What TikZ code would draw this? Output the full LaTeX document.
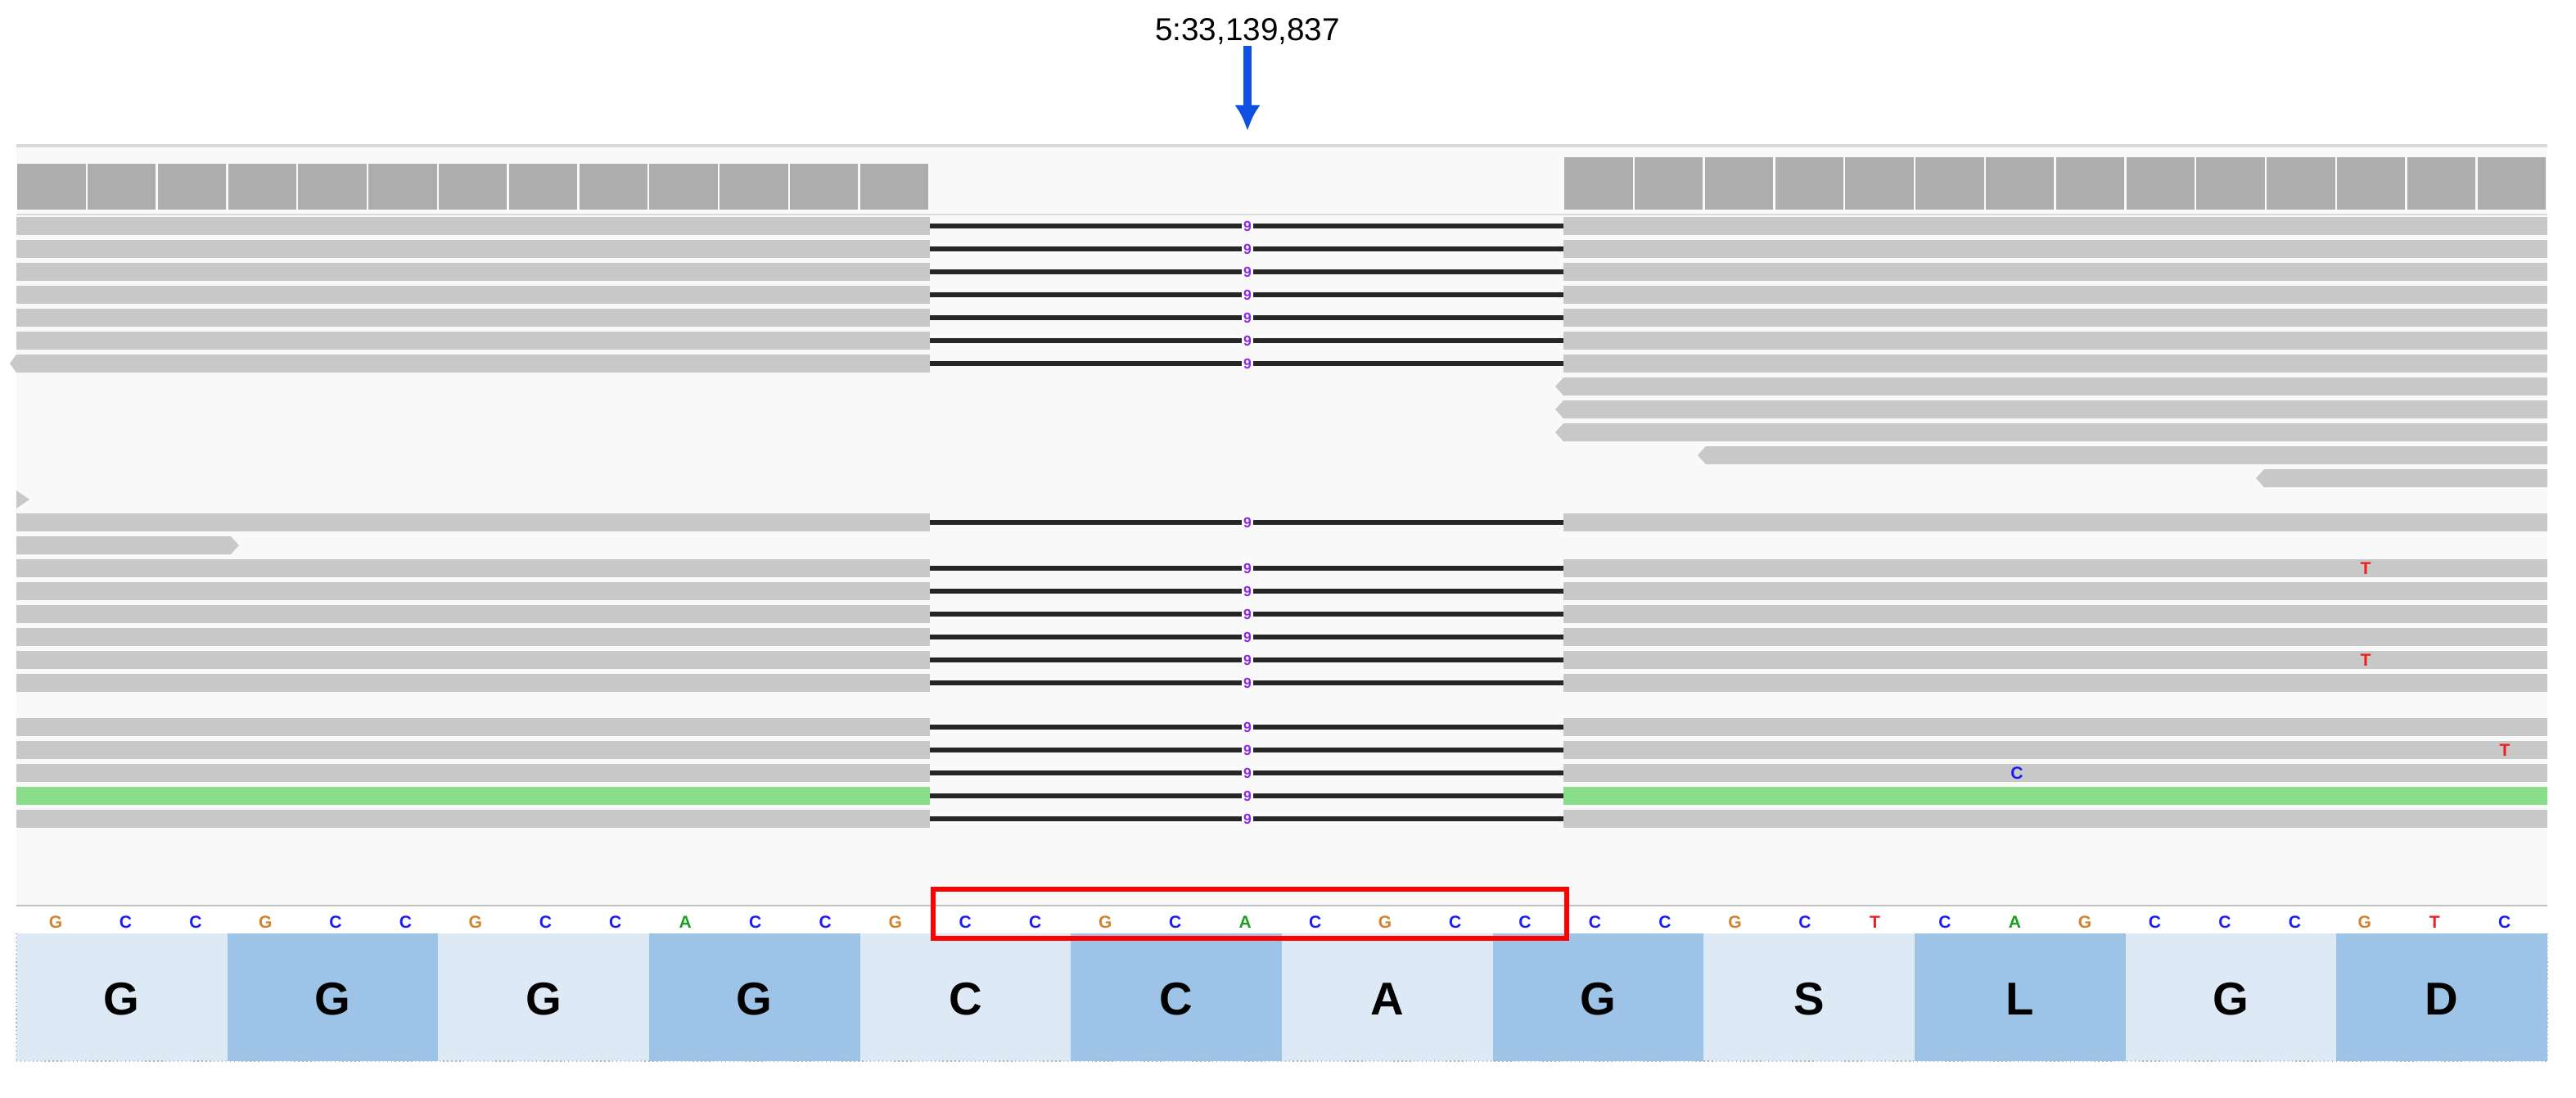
\documentclass[tikz,border=0pt]{standalone}
\usepackage{fontspec}
\setmainfont{Liberation Sans}
\usetikzlibrary{positioning,arrows.meta}
\definecolor{covgrey}{HTML}{ADADAD}
\definecolor{readgrey}{HTML}{C8C8C8}
\definecolor{panelbg}{HTML}{F9F9F9}
\definecolor{aalight}{HTML}{DDE9F5}
\definecolor{aadark}{HTML}{9DC3E6}
\definecolor{readgreen}{HTML}{88DD88}
\definecolor{baseC}{HTML}{1A1AFF}
\definecolor{baseG}{HTML}{D2822A}
\definecolor{baseA}{HTML}{1E9E1E}
\definecolor{baseT}{HTML}{F01E1E}
\definecolor{posblue}{HTML}{1050E0}
\definecolor{juncpurple}{HTML}{8A2BE2}

\begin{document}
\begin{tikzpicture}[x=0.02cm,y=-0.02cm]
    \tikzstyle{read}=[fill=readgrey,draw=none]
    \tikzstyle{junction}=[line width=1.6pt,black!85]
    \tikzstyle{count}=[font=\bfseries\fontsize{5}{5}\selectfont,text=juncpurple,fill=panelbg,inner sep=0.5pt]
    \tikzstyle{base}=[font=\bfseries\fontsize{6}{6}\selectfont,inner sep=0pt]
    \tikzstyle{aa}=[font=\bfseries\fontsize{16}{16}\selectfont,inner sep=0pt]
    \tikzstyle{mismatch}=[font=\bfseries\fontsize{6}{6}\selectfont,inner sep=0pt]
    \useasboundingbox (0,0) rectangle (1573.5,670);
    \fill[white] (0,0) rectangle (1573.5,670);

% Position et fleche
\node[font=\fontsize{11}{11}\selectfont] (pos) at (762,19) {5:33,139,837};
\coordinate (tip) at (762,80);
\draw[posblue,line width=2.6pt,-{Latex[length=9pt,width=9pt]}] (pos.south) ++(0,-5) -- (tip);

% Panneau
\fill[panelbg] (10,88) rectangle (1556,553);
\draw[black!15,line width=1pt] (10,89) -- (1556,89);
\draw[black!15] (10,131) -- (1556,131);

% Couverture
\foreach \i in {0,...,12}
  \fill[covgrey] (10+\i*42.9+0.6,100) rectangle (10+\i*42.9+42.3,128);
\foreach \i in {0,...,13}
  \fill[covgrey] (955+\i*42.9+0.6,96) rectangle (955+\i*42.9+42.3,128);

% Lectures epissees
\foreach \y in {138,152,166,180,194,208,222,319,347,361,375,389,403,417,444,458,472,486,500} {
  \fill[read] (10,\y-5.5) rectangle (568,\y+5.5);
  \fill[read] (955,\y-5.5) rectangle (1556,\y+5.5);
  \draw[junction] (568,\y) -- (955,\y);
  \node[count] (n\y) at (762,\y) {9};
}
\fill[readgreen] (10,480.5) rectangle (568,491.5);
\fill[readgreen] (955,480.5) rectangle (1556,491.5);
\fill[read] (10,216.5) -- (6,222) -- (10,227.5) -- cycle;

% Lectures non epissees
\foreach \y in {236,250,264}
  \fill[read] (955,\y-5.5) -- (950,\y) -- (955,\y+5.5) -- (1556,\y+5.5) -- (1556,\y-5.5) -- cycle;
\fill[read] (1042,272.5) -- (1037,278) -- (1042,283.5) -- (1556,283.5) -- (1556,272.5) -- cycle;
\fill[read] (1383,286.5) -- (1378,292) -- (1383,297.5) -- (1556,297.5) -- (1556,286.5) -- cycle;
\fill[read] (10,299.5) -- (18,305) -- (10,310.5) -- cycle;
\fill[read] (10,327.5) -- (141,327.5) -- (146,333) -- (141,338.5) -- (10,338.5) -- cycle;

% Mesappariements
\node[mismatch,text=baseT] (mm1) at (1445,347) {T};
\node[mismatch,text=baseT] (mm2) at (1445,403) {T};
\node[mismatch,text=baseT] (mm3) at (1530,458) {T};
\node[mismatch,text=baseC] (mm4) at (1232,472) {C};

% Sequence de reference
\draw[black!25] (10,553) -- (1556,553);
\foreach \b [count=\k from 0] in {G,C,C,G,C,C,G,C,C,A,C,C,G,C,C,G,C,A,C,G,C,C,C,C,G,C,T,C,A,G,C,C,C,G,T,C}
  \node[base,text=base\b] (s\k) at (34+\k*42.74,563) {\b};

% Acides amines
\foreach \a [count=\k from 0] in {G,G,G,G,C,C,A,G,S,L,G,D} {
  \pgfmathsetmacro{\xl}{10+\k*128.83}
  \ifodd\k \def\cc{aadark}\else\def\cc{aalight}\fi
  \fill[\cc] (\xl,570) rectangle (\xl+128.83,648);
  \node[aa] (a\k) at (\xl+64.4,610) {\a};
}
\draw[black!30,densely dotted] (10,570) -- (10,648) (1556,570) -- (1556,648);
\draw[black!30,densely dotted] (10,648) -- (1556,648);

% Cadre rouge
\draw[red,line width=1.5pt] (570,543) rectangle (957,573);
\end{tikzpicture}
\end{document}
